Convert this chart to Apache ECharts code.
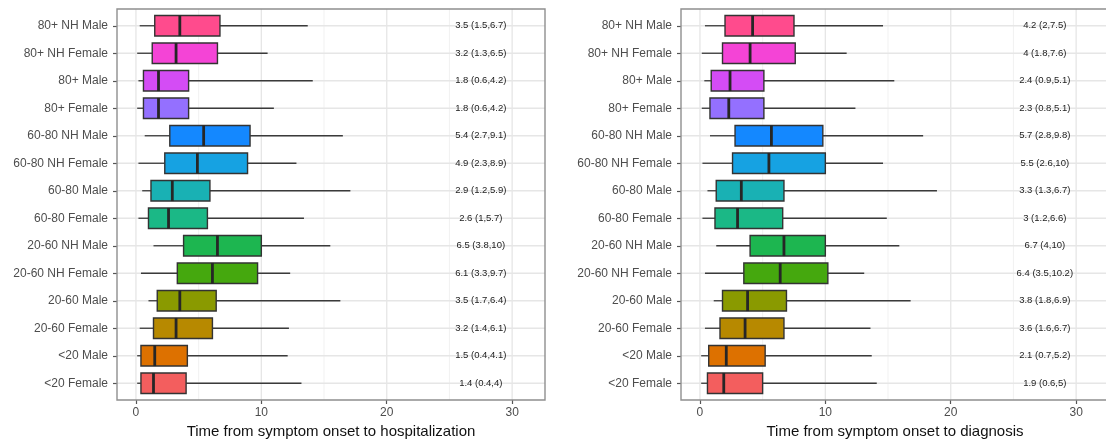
<!DOCTYPE html>
<html>
<head>
<meta charset="utf-8">
<script src="https://cdn.jsdelivr.net/npm/echarts@6/dist/echarts.min.js"></script>
<style>
  html, body { margin: 0; padding: 0; background: #ffffff; }
  #chart { width: 1106px; height: 439px; }
</style>
</head>
<body>
<div id="chart"></div>
<script>
// Groups listed bottom to top
const groups = [
  '<20 Female', '<20 Male',
  '20-60 Female', '20-60 Male', '20-60 NH Female', '20-60 NH Male',
  '60-80 Female', '60-80 Male', '60-80 NH Female', '60-80 NH Male',
  '80+ Female', '80+ Male', '80+ NH Female', '80+ NH Male'
];

const groupColors = [
  '#F35E5E', '#DD7100',
  '#B78900', '#8A9A00', '#45A80E', '#1DB650',
  '#1BB886', '#19B1B4', '#16A2E2', '#1488FF',
  '#9470FF', '#D44CF5', '#F444D6', '#FF4B8D'
];

// Days from symptom onset to hospitalization
const hospLow    = [0.1, 0.1, 0.3, 1.0, 0.4, 1.4, 0.2, 0.5, 0.2, 0.7, 0.1, 0.2, 0.1, 0.3];
const hospQ1     = [0.4, 0.4, 1.4, 1.7, 3.3, 3.8, 1, 1.2, 2.3, 2.7, 0.6, 0.6, 1.3, 1.5];
const hospMedian = [1.4, 1.5, 3.2, 3.5, 6.1, 6.5, 2.6, 2.9, 4.9, 5.4, 1.8, 1.8, 3.2, 3.5];
const hospQ3     = [4, 4.1, 6.1, 6.4, 9.7, 10, 5.7, 5.9, 8.9, 9.1, 4.2, 4.2, 6.5, 6.7];
const hospHigh   = [13.2, 12.1, 12.2, 16.3, 12.3, 15.5, 13.4, 17.1, 12.8, 16.5, 11.0, 14.1, 10.5, 13.7];

// Days from symptom onset to diagnosis
const diagLow    = [0.1, 0.1, 0.4, 1.1, 0.4, 1.3, 0.2, 0.6, 0.2, 0.8, 0.15, 0.35, 0.15, 0.4];
const diagQ1     = [0.6, 0.7, 1.6, 1.8, 3.5, 4, 1.2, 1.3, 2.6, 2.8, 0.8, 0.9, 1.8, 2];
const diagMedian = [1.9, 2.1, 3.6, 3.8, 6.4, 6.7, 3, 3.3, 5.5, 5.7, 2.3, 2.4, 4, 4.2];
const diagQ3     = [5, 5.2, 6.7, 6.9, 10.2, 10, 6.6, 6.7, 10, 9.8, 5.1, 5.1, 7.6, 7.5];
const diagHigh   = [14.1, 13.7, 13.6, 16.8, 13.1, 15.9, 14.9, 18.9, 14.6, 17.8, 12.4, 15.5, 11.7, 14.6];

const xMajorTicks = [0, 10, 20, 30];
const xMinorTicks = [5, 15, 25];

const panelTitles = [
  'Time from symptom onset to hospitalization',
  'Time from symptom onset to diagnosis'
];

// ---- chart construction ----
const FONT = "'Liberation Sans', Arial, Helvetica, sans-serif";
const X_MIN = -1.51, X_MAX = 32.62;
const LABEL_X = 27.5;
const PANEL_W = 428;
const panelLefts = [117, 681];

function boxRows(low, q1, med, q3, high) {
  return groups.map((g, i) => [i, low[i], q1[i], med[i], q3[i], high[i]]);
}
const panelData = [
  boxRows(hospLow, hospQ1, hospMedian, hospQ3, hospHigh),
  boxRows(diagLow, diagQ1, diagMedian, diagQ3, diagHigh)
];

function renderBox(params, api) {
  const c = api.value(0);
  const low = api.coord([api.value(1), c]);
  const q1 = api.coord([api.value(2), c]);
  const med = api.coord([api.value(3), c]);
  const q3 = api.coord([api.value(4), c]);
  const high = api.coord([api.value(5), c]);
  const h = api.size([0, 1])[1] * 0.75;
  const y = q1[1];
  const lineStyle = { stroke: '#3a3a3a', lineWidth: 1.3 };
  return {
    type: 'group',
    children: [
      { type: 'line', shape: { x1: low[0], y1: y, x2: q1[0], y2: y }, style: lineStyle },
      { type: 'line', shape: { x1: q3[0], y1: y, x2: high[0], y2: y }, style: lineStyle },
      {
        type: 'rect',
        shape: { x: q1[0], y: y - h / 2, width: q3[0] - q1[0], height: h },
        style: { fill: groupColors[params.dataIndex], stroke: '#333333', lineWidth: 1.4 }
      },
      {
        type: 'line',
        shape: { x1: med[0], y1: y - h / 2, x2: med[0], y2: y + h / 2 },
        style: { stroke: '#262626', lineWidth: 2.8 }
      }
    ]
  };
}

function renderLabel(params, api) {
  const c = api.value(0);
  const p = api.coord([LABEL_X, c]);
  const text = api.value(3) + ' (' + api.value(2) + ',' + api.value(4) + ')';
  return {
    type: 'text',
    x: p[0], y: p[1],
    style: {
      text: text, fill: '#222222', fontSize: 9.5, fontFamily: FONT,
      align: 'center', verticalAlign: 'middle'
    }
  };
}

function renderVGrid(params, api) {
  const v = api.value(0);
  const x = api.coord([v, 0])[0];
  const cs = params.coordSys;
  const major = xMajorTicks.indexOf(v) >= 0;
  return {
    type: 'line',
    shape: { x1: x, y1: cs.y, x2: x, y2: cs.y + cs.height },
    style: { stroke: major ? '#e6e6e6' : '#efefef', lineWidth: major ? 1.3 : 0.9 }
  };
}

function renderHGrid(params, api) {
  const y = api.coord([0, api.value(0)])[1];
  const cs = params.coordSys;
  return {
    type: 'line',
    shape: { x1: cs.x, y1: y, x2: cs.x + cs.width, y2: y },
    style: { stroke: '#e6e6e6', lineWidth: 1.3 }
  };
}

const grids = [], xAxes = [], yAxes = [], series = [];
panelLefts.forEach((left, p) => {
  const outer = p * 2, inner = p * 2 + 1;
  grids.push({
    left: left, top: 9, width: PANEL_W, height: 391,
    show: true, borderColor: '#8f8f8f', borderWidth: 1.4, backgroundColor: 'transparent',
    containLabel: false, outerBoundsMode: 'none', z: 5
  });
  grids.push({
    left: left, top: 12, width: PANEL_W, height: 385,
    show: false, containLabel: false, outerBoundsMode: 'none'
  });
  xAxes.push({
    type: 'value', gridIndex: outer, min: X_MIN, max: X_MAX, position: 'bottom',
    axisLine: { show: false, onZero: false },
    axisTick: { show: true, customValues: xMajorTicks, length: 4, lineStyle: { color: '#555', width: 1.2 } },
    axisLabel: { customValues: xMajorTicks, fontSize: 12, color: '#4d4d4d', fontFamily: FONT, margin: 7 },
    splitLine: { show: false },
    name: panelTitles[p], nameLocation: 'middle', nameGap: 21,
    nameTextStyle: { fontSize: 15, color: '#111', fontFamily: FONT }
  });
  xAxes.push({
    type: 'value', gridIndex: inner, min: X_MIN, max: X_MAX, show: false,
    axisLine: { onZero: false }, splitLine: { show: false }
  });
  yAxes.push({
    type: 'value', gridIndex: outer, min: 0, max: 1, show: false,
    axisLine: { onZero: false }, splitLine: { show: false }
  });
  yAxes.push({
    type: 'category', gridIndex: inner, data: groups, position: 'left',
    axisLine: { show: false, onZero: false },
    axisTick: { show: true, alignWithLabel: true, length: 4, lineStyle: { color: '#555', width: 1.2 } },
    axisLabel: { fontSize: 12, color: '#4d4d4d', fontFamily: FONT, margin: 9 },
    splitLine: { show: false }
  });

  series.push({
    type: 'custom', xAxisIndex: outer, yAxisIndex: outer, z: 1, silent: true,
    data: xMajorTicks.concat(xMinorTicks).map(v => [v, 0]),
    renderItem: renderVGrid
  });
  series.push({
    type: 'custom', xAxisIndex: inner, yAxisIndex: inner, z: 1, silent: true,
    data: groups.map((g, i) => [i]),
    renderItem: renderHGrid
  });
  series.push({
    type: 'custom', xAxisIndex: inner, yAxisIndex: inner, z: 3, silent: true,
    data: panelData[p],
    encode: { x: [1, 2, 3, 4, 5], y: 0 },
    renderItem: renderBox
  });
  series.push({
    type: 'custom', xAxisIndex: inner, yAxisIndex: inner, z: 4, silent: true,
    data: panelData[p],
    encode: { x: [1, 2, 3, 4, 5], y: 0 },
    renderItem: renderLabel
  });
});

const chart = echarts.init(document.getElementById('chart'), null, { renderer: 'canvas' });
chart.setOption({
  animation: false,
  backgroundColor: '#ffffff',
  grid: grids,
  xAxis: xAxes,
  yAxis: yAxes,
  series: series
});
</script>
</body>
</html>
